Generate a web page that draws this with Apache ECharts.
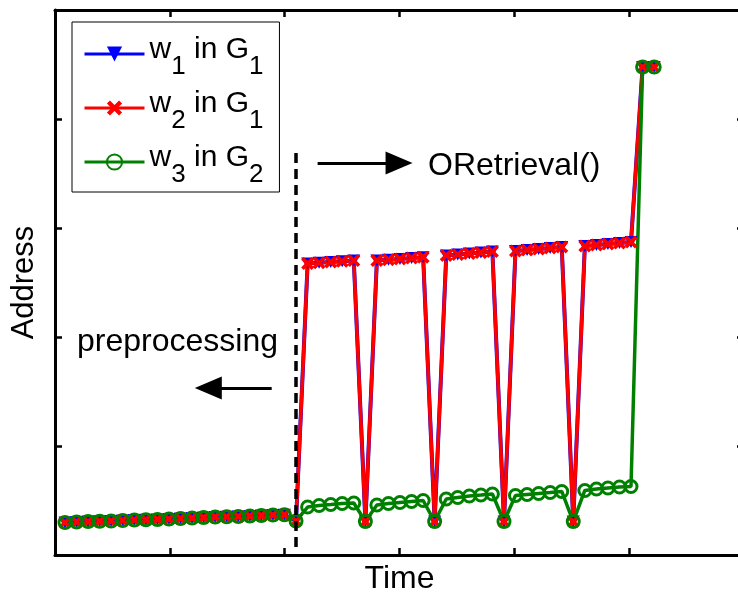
<!DOCTYPE html>
<html><head><meta charset="utf-8">
<script src="https://cdn.jsdelivr.net/npm/echarts@6/dist/echarts.min.js"></script>
<style>html,body{margin:0;padding:0;background:#fff}#c{width:738px;height:595px}</style>
</head><body><div id="c"></div>
<script>
// ---- data ----
const times = [0.087,0.188,0.288,0.389,0.489,0.590,0.691,0.791,0.892,0.992,
  1.093,1.194,1.294,1.395,1.495,1.596,1.697,1.797,1.898,1.998,
  2.099,2.200,2.300,2.401,2.501,2.602,2.703,2.803,2.904,3.004,
  3.105,3.206,3.306,3.407,3.507,3.608,3.709,3.809,3.910,4.010,
  4.111,4.212,4.312,4.413,4.513,4.614,4.715,4.815,4.916,5.016,
  5.117,5.218];
const w1Addr = [29.8,30.3,30.7,30.9,31.2,31.7,32.1,32.3,32.6,33.0,33.5,33.9,34.4,34.9,35.1,35.3,35.8,36.2,36.7,36.9,
  31.2, 267.4,268.1,268.8,269.4,270.2, 30.7, 270.2,270.9,271.6,272.5,273.2, 30.7,
  274.8,275.7,276.6,277.5,278.4, 30.7, 278.9,279.8,280.7,281.7,282.6, 30.7,
  283.5,284.4,285.3,286.2,287.2, 447.7,447.7];
const w2Addr = [29.8,30.3,30.7,30.9,31.2,31.7,32.1,32.3,32.6,33.0,33.5,33.9,34.4,34.9,35.1,35.3,35.8,36.2,36.7,36.9,
  31.2, 267.4,268.1,268.8,269.4,270.2, 30.7, 270.2,270.9,271.6,272.5,273.2, 30.7,
  274.8,275.7,276.6,277.5,278.4, 30.7, 278.9,279.8,280.7,281.7,282.6, 30.7,
  283.5,284.4,285.3,286.2,287.2, 447.7,447.7];
const w3Addr = [29.8,30.3,30.7,30.9,31.2,31.7,32.1,32.3,32.6,33.0,33.5,33.9,34.4,34.9,35.1,35.3,35.8,36.2,36.7,36.9,
  31.2, 44.0,45.4,46.3,47.2,47.7, 30.7, 45.9,47.2,48.2,49.1,50.0, 30.7,
  51.4,52.8,54.1,55.0,56.0, 30.7, 54.6,55.5,56.4,57.3,58.3, 30.7,
  59.2,60.6,61.5,62.4,62.8, 447.7,447.7];
const seriesNames = ['w1 in G1','w2 in G1','w3 in G2'];
const legendLabels = {
  'w1 in G1':'{n|w}{s|1}{n| in G}{s|1}',
  'w2 in G1':'{n|w}{s|2}{n| in G}{s|1}',
  'w3 in G2':'{n|w}{s|3}{n| in G}{s|2}'
};
const xRange = [0, 6];
const yRange = [0, 500];
const dividerLine = [[2.096, 7.3], [2.096, 368.8]];
const rightArrow = [[2.287, 359.6], [2.996, 359.6]];
const leftArrow = [[1.887, 153.2], [1.335, 153.2]];
const axisTitles = {x: 'Time', y: 'Address'};
const notes = {right: 'ORetrieval()', left: 'preprocessing'};

// ---- chart ----
const FF = 'Liberation Sans, Arial, sans-serif';
const pair = arr => times.map((t, i) => [t, arr[i]]);
const xMark = 'path://M0,2 L2,0 L5,3 L8,0 L10,2 L7,5 L10,8 L8,10 L5,7 L2,10 L0,8 L3,5 Z';
const axisLine = {show: true, onZero: false, lineStyle: {color: '#000', width: 3}};
const axisTick = {show: true, inside: true, length: 7, lineStyle: {color: '#000', width: 2.5}};
const chart = echarts.init(document.getElementById('c'), null, {renderer: 'canvas'});
const option = {
  animation: false,
  backgroundColor: '#fff',
  grid: {left: 55, right: -6, top: 10, bottom: 40, outerBoundsMode: 'none', containLabel: false},
  xAxis: [
    {type: 'value', min: xRange[0], max: xRange[1], interval: 1, position: 'bottom',
     axisLine, axisTick, axisLabel: {show: false}, splitLine: {show: false},
     name: axisTitles.x, nameLocation: 'middle', nameGap: 8,
     nameTextStyle: {fontSize: 32, fontFamily: FF, color: '#000'}},
    {type: 'value', min: xRange[0], max: xRange[1], interval: 1, position: 'top',
     axisLine, axisTick, axisLabel: {show: false}, splitLine: {show: false}}
  ],
  yAxis: [
    {type: 'value', min: yRange[0], max: yRange[1], interval: 100, position: 'left',
     axisLine, axisTick, axisLabel: {show: false}, splitLine: {show: false},
     name: axisTitles.y, nameLocation: 'middle', nameGap: 15, nameRotate: 90,
     nameTextStyle: {fontSize: 31, fontFamily: FF, color: '#000'}},
    {type: 'value', min: yRange[0], max: yRange[1], interval: 100, position: 'right',
     axisLine, axisTick, axisLabel: {show: false}, splitLine: {show: false}}
  ],
  legend: {
    data: seriesNames, orient: 'vertical', left: 72, top: 22,
    padding: [6, 16, 4, 11], itemGap: 2, itemWidth: 60, itemHeight: 19,
    borderColor: '#000', borderWidth: 1, borderRadius: 0, backgroundColor: '#fff',
    selectedMode: false,
    lineStyle: {width: 3},
    formatter: n => legendLabels[n],
    textStyle: {
      fontSize: 30, fontFamily: FF, color: '#000',
      rich: {
        n: {fontSize: 30, fontFamily: FF, color: '#000', lineHeight: 30, padding: [0, 0, 8, 0]},
        s: {fontSize: 26, fontFamily: FF, color: '#000', lineHeight: 26, padding: [26, 0, 0, 0]}
      }
    }
  },
  series: [
    {name: seriesNames[0], type: 'line', data: pair(w1Addr),
     symbol: 'triangle', symbolRotate: 180, symbolSize: [13, 12],
     itemStyle: {color: '#0000ff'}, lineStyle: {color: '#0000ff', width: 4}},
    {name: seriesNames[1], type: 'line', data: pair(w2Addr),
     symbol: xMark, symbolSize: 13,
     itemStyle: {color: '#ff0000'}, lineStyle: {color: '#ff0000', width: 3.5}},
    {name: seriesNames[2], type: 'line', data: pair(w3Addr),
     symbol: 'circle', symbolSize: 12,
     itemStyle: {color: 'rgba(0,0,0,0)', borderColor: '#008000', borderWidth: 3},
     lineStyle: {color: '#008000', width: 3.5},
     markLine: {
       silent: true, animation: false, symbol: ['none', 'none'],
       label: {show: false}, lineStyle: {color: '#000', width: 3, type: 'solid'},
       emphasis: {disabled: true},
       data: [
         [{coord: dividerLine[0], lineStyle: {color: '#000', width: 3.5, type: [10, 6]}}, {coord: dividerLine[1]}],
         [{coord: rightArrow[0], symbol: 'none', lineStyle: {color: '#000', width: 3}},
          {coord: rightArrow[1], symbol: 'triangle', symbolSize: [23, 27]}],
         [{coord: leftArrow[0], symbol: 'none', lineStyle: {color: '#000', width: 3}},
          {coord: leftArrow[1], symbol: 'triangle', symbolSize: [23, 27]}]
       ]
     }}
  ],
  graphic: [
    {type: 'text', x: 428, y: 166, silent: true,
     style: {text: notes.right, fontSize: 32, fontFamily: FF, fill: '#000', verticalAlign: 'middle'}},
    {type: 'text', x: 77, y: 342, silent: true,
     style: {text: notes.left, fontSize: 32, fontFamily: FF, fill: '#000', verticalAlign: 'middle'}}
  ]
};
chart.setOption(option);
</script></body></html>
